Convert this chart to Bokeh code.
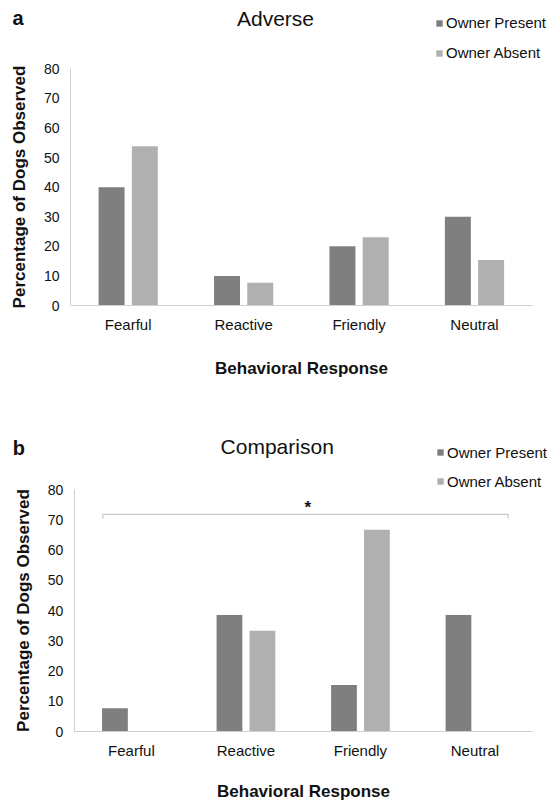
from bokeh.plotting import figure
from bokeh.models import (ColumnDataSource, Range1d, FixedTicker,
                          Legend, LegendItem, Label)
from bokeh.layouts import column
from bokeh.embed import file_html
from bokeh.resources import INLINE

# ---------------- data ----------------
categories = ["Fearful", "Reactive", "Friendly", "Neutral"]
adverse_present = [40.0, 10.0, 20.0, 30.0]
adverse_absent = [53.8, 7.7, 23.1, 15.4]
comparison_present = [7.7, 38.5, 15.4, 38.5]
comparison_absent = [0.0, 33.3, 66.7, 0.0]
y_ticks = [0, 10, 20, 30, 40, 50, 60, 70, 80]
series_labels = ["Owner Present", "Owner Absent"]
panel_titles = ["Adverse", "Comparison"]
panel_letters = ["a", "b"]
x_title = "Behavioral Response"
y_title = "Percentage of Dogs Observed"
significance_mark = "*"

# ---------------- style / layout ----------------
FONT = "Liberation Sans"
PRESENT = "#7f7f7f"
ABSENT = "#b0b0b0"
AXIS = "#d0d0d0"
TEXT = "#111111"
W = 549
OFFSET = 0.144
BAR_W = 0.225
Y_MAX = 80
N = len(categories)


def make_panel(idx, present, absent, fig_h, ax_left, ax_right, ax_top, ax_bottom,
               legend_xy, spacing, title_xy, letter_xy, xlabel_standoff):
    # pixel geometry -> data ranges so that the plot frame fills the canvas
    ppx = (ax_right - ax_left) / N
    ppy = (ax_bottom - ax_top) / Y_MAX
    x_range = Range1d(-ax_left / ppx, N + (W - ax_right) / ppx)
    y_range = Range1d(-(fig_h - ax_bottom) / ppy, Y_MAX + ax_top / ppy)
    p = figure(x_range=x_range, y_range=y_range, width=W, height=fig_h,
               output_backend="svg", toolbar_location=None,
               min_border=0, min_border_left=0, min_border_right=0,
               min_border_top=0, min_border_bottom=0)
    p.title.visible = False
    p.outline_line_color = None
    p.xgrid.visible = False
    p.ygrid.visible = False
    p.background_fill_color = "white"
    p.border_fill_color = "white"

    centers = [i + 0.5 for i in range(N)]
    src = ColumnDataSource(dict(
        cat=categories,
        xp=[c - OFFSET for c in centers],
        xa=[c + OFFSET for c in centers],
        present=present, absent=absent))
    r1 = p.vbar(x="xp", top="present", width=BAR_W, source=src,
                fill_color=PRESENT, line_color=None)
    r2 = p.vbar(x="xa", top="absent", width=BAR_W, source=src,
                fill_color=ABSENT, line_color=None)

    for ax in (p.xaxis[0], p.yaxis[0]):
        ax.fixed_location = 0
        ax.axis_line_color = AXIS
        ax.axis_line_width = 1
        ax.major_tick_line_color = None
        ax.minor_tick_line_color = None
        ax.major_tick_out = 0
        ax.major_tick_in = 0
        ax.minor_tick_out = 0
        ax.minor_tick_in = 0
        ax.major_label_text_font = FONT
        ax.major_label_text_color = TEXT
        ax.axis_label_text_font = FONT
        ax.axis_label_text_font_style = "bold"
        ax.axis_label_text_font_size = "17px"
        ax.axis_label_text_color = TEXT

    p.yaxis.ticker = FixedTicker(ticks=y_ticks)
    p.yaxis.bounds = (0, Y_MAX)
    p.yaxis.major_label_text_font_size = "14px"
    p.yaxis.major_label_standoff = 11
    p.yaxis.axis_label = y_title
    p.yaxis.axis_label_standoff = 12

    p.xaxis.ticker = FixedTicker(ticks=centers)
    p.xaxis.major_label_overrides = {c: cat for c, cat in zip(centers, categories)}
    p.xaxis.bounds = (0, N)
    p.xaxis.major_label_text_font_size = "15px"
    p.xaxis.major_label_standoff = 10
    p.xaxis.axis_label = x_title
    p.xaxis.axis_label_standoff = xlabel_standoff

    legend = Legend(items=[LegendItem(label=series_labels[0], renderers=[r1]),
                           LegendItem(label=series_labels[1], renderers=[r2])],
                    location=legend_xy, orientation="vertical",
                    glyph_width=8, glyph_height=8, label_standoff=3,
                    label_height=17, spacing=spacing, padding=0, margin=0,
                    border_line_color=None, background_fill_alpha=0,
                    label_text_font=FONT, label_text_font_size="15px",
                    label_text_color=TEXT)
    p.add_layout(legend)

    p.add_layout(Label(x=title_xy[0], y=fig_h - title_xy[1], x_units="screen",
                       y_units="screen", text=panel_titles[idx],
                       text_font=FONT, text_font_size="21px",
                       text_color=TEXT, text_align="center",
                       text_baseline="middle"))
    p.add_layout(Label(x=letter_xy[0], y=fig_h - letter_xy[1], x_units="screen",
                       y_units="screen", text=panel_letters[idx],
                       text_font=FONT, text_font_size="20px",
                       text_font_style="bold", text_color=TEXT,
                       text_align="left", text_baseline="middle"))
    return p


# panel a: canvas y from 0 to 406
pa = make_panel(0, adverse_present, adverse_absent, fig_h=406,
                ax_left=70, ax_right=531.7, ax_top=68.3, ax_bottom=305,
                legend_xy=(435, 406 - 61), spacing=13,
                title_xy=(275, 18), letter_xy=(12, 17),
                xlabel_standoff=23)

# panel b: canvas y from 406 to 800
pb = make_panel(1, comparison_present, comparison_absent, fig_h=394,
                ax_left=73.7, ax_right=531.7, ax_top=83, ax_bottom=325,
                legend_xy=(436, 394 - 83.5), spacing=12,
                title_xy=(276.7, 40), letter_xy=(12.3, 41.7),
                xlabel_standoff=20)

# significance bracket spanning all categories (panel b)
b_left = categories.index("Fearful") + 0.5 - 0.25
b_right = categories.index("Neutral") + 0.5 + 0.29
b_y = 71.8
b_tick = 70.3
pb.segment(x0=[b_left, b_left, b_right], y0=[b_y, b_y, b_y],
           x1=[b_right, b_left, b_right], y1=[b_y, b_tick, b_tick],
           line_color="#c8c8c8", line_width=1.2)
pb.add_layout(Label(x=(b_left + b_right) / 2 + 0.02, y=74.0, text=significance_mark,
                    text_font=FONT, text_font_size="17px", text_font_style="bold",
                    text_color=TEXT, text_align="center", text_baseline="alphabetic"))

layout = column(pa, pb, spacing=0)
open("out.html", "w").write(file_html(layout, INLINE))
